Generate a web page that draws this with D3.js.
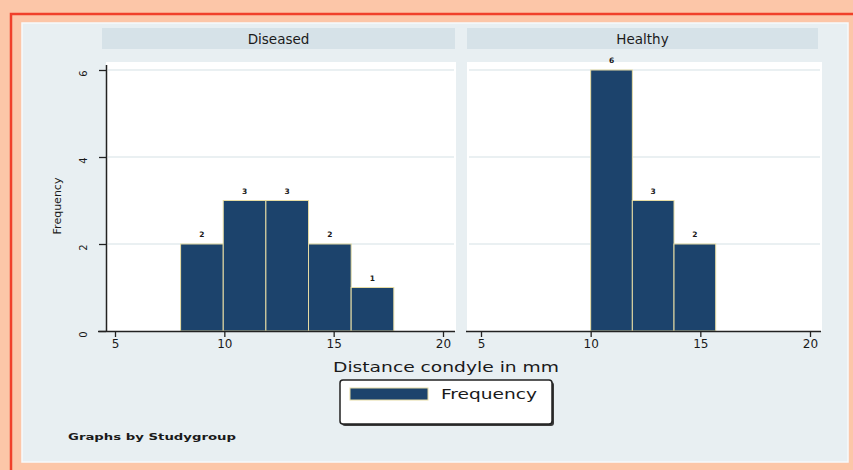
<!DOCTYPE html>
<html>
<head>
<meta charset="utf-8">
<script src="https://cdn.jsdelivr.net/npm/d3@7/dist/d3.min.js"></script>
<style>
  html, body { margin: 0; padding: 0; background: #fcc6a8; }
  svg { display: block; }
  text { font-family: "DejaVu Sans", Verdana, sans-serif; fill: #1a1a1a; }
</style>
</head>
<body>
<script>
// Histogram of condyle distance, split by study group
const groups = ["Diseased", "Healthy"];
const diseasedBinStarts = [8, 9.95, 11.9, 13.85, 15.8];
const diseasedBinWidth = 1.95;
const diseasedCounts = [2, 3, 3, 2, 1];
const healthyBinStarts = [10, 11.9, 13.8];
const healthyBinWidth = 1.9;
const healthyCounts = [6, 3, 2];
const xTicks = [5, 10, 15, 20];
const yTicks = [0, 2, 4, 6];
const xTitle = "Distance condyle in mm";
const yTitle = "Frequency";
const legendLabel = "Frequency";
const note = "Graphs by Studygroup";

const W = 853, H = 470;
const barFill = "#1c436c", barStroke = "#e6dca4";

const svg = d3.select("body").append("svg").attr("width", W).attr("height", H);

// outer frame
svg.append("rect").attr("x", 0).attr("y", 0).attr("width", W).attr("height", H).attr("fill", "#fcc6a8");
svg.append("path").attr("d", `M11,${H} V14 H${W}`).attr("fill", "none").attr("stroke", "#f0402a").attr("stroke-width", 2.5);
svg.append("rect").attr("x", 22).attr("y", 23).attr("width", 826).attr("height", 439)
  .attr("fill", "#e8eff2").attr("stroke", "#f6fafb").attr("stroke-width", 1.5);

const panels = [
  { name: groups[0], starts: diseasedBinStarts, width: diseasedBinWidth, counts: diseasedCounts,
    plotL: 106, plotR: 456, headL: 102, headR: 455, xr: [115, 443], yAxis: true },
  { name: groups[1], starts: healthyBinStarts, width: healthyBinWidth, counts: healthyCounts,
    plotL: 467, plotR: 822, headL: 467, headR: 818, xr: [481, 810], yAxis: false }
];

const plotTop = 62, plotBottom = 331;
const y = d3.scaleLinear().domain([0, 6]).range([331, 70]);

panels.forEach(p => {
  const x = d3.scaleLinear().domain([5, 20]).range(p.xr);
  const g = svg.append("g");

  // facet header strip
  g.append("rect").attr("x", p.headL).attr("y", 28).attr("width", p.headR - p.headL).attr("height", 21)
    .attr("fill", "#d6e2e8");
  g.append("text").attr("x", (p.headL + p.headR) / 2).attr("y", 43.5).attr("text-anchor", "middle")
    .attr("font-size", 13.5).text(p.name);

  // plot region
  g.append("rect").attr("x", p.plotL).attr("y", plotTop).attr("width", p.plotR - p.plotL)
    .attr("height", plotBottom - plotTop).attr("fill", "#ffffff");

  // gridlines
  g.selectAll("line.grid").data(yTicks.filter(t => t > 0)).enter().append("line")
    .attr("x1", p.plotL + 2).attr("x2", p.plotR - 2)
    .attr("y1", d => y(d)).attr("y2", d => y(d))
    .attr("stroke", "#e3ebee").attr("stroke-width", 1.5);

  // bars
  g.selectAll("rect.bar").data(p.counts).enter().append("rect")
    .attr("x", (d, i) => x(p.starts[i]))
    .attr("width", (d, i) => x(p.starts[i] + p.width) - x(p.starts[i]))
    .attr("y", d => y(d))
    .attr("height", d => y(0) - y(d))
    .attr("fill", barFill).attr("stroke", barStroke).attr("stroke-width", 1);

  // value labels
  g.selectAll("text.val").data(p.counts).enter().append("text")
    .attr("x", (d, i) => x(p.starts[i] + p.width / 2))
    .attr("y", d => y(d) - 7)
    .attr("text-anchor", "middle").attr("font-size", 7.5).attr("font-weight", "bold")
    .text(d => d);

  // x axis
  const xa = g.append("g").attr("transform", `translate(0,${plotBottom})`)
    .call(d3.axisBottom(x).tickValues(xTicks).tickSize(6).tickSizeOuter(0).tickPadding(2));
  xa.select(".domain").attr("d", `M${p.plotL - (p.yAxis ? 8 : 1)},0.5H${p.plotR - 1}`)
    .attr("stroke", "#222").attr("stroke-width", 1.5);
  xa.selectAll(".tick line").attr("stroke", "#222").attr("stroke-width", 1.3);
  xa.selectAll(".tick text").attr("font-size", 12).attr("font-family", "DejaVu Sans").attr("fill", "#1a1a1a");

  if (p.yAxis) {
    const ya = g.append("g").attr("transform", `translate(${p.plotL},0)`)
      .call(d3.axisLeft(y).tickValues(yTicks).tickFormat(d3.format("d")).tickSize(7).tickSizeOuter(0).tickPadding(0));
    ya.select(".domain").attr("d", `M0.5,${plotTop + 3}V${plotBottom}`).attr("stroke", "#222").attr("stroke-width", 1.5);
    ya.selectAll(".tick line").attr("stroke", "#222").attr("stroke-width", 1.3);
    ya.selectAll(".tick text")
      .attr("font-size", 10).attr("font-family", "DejaVu Sans").attr("fill", "#1a1a1a")
      .attr("text-anchor", "middle").attr("x", 0).attr("dy", 0)
      .attr("transform", "translate(-19,3) rotate(-90)");
  }
});

// axis titles
svg.append("text").attr("x", 446).attr("y", 372).attr("text-anchor", "middle")
  .attr("font-size", 14).attr("textLength", 226).attr("lengthAdjust", "spacingAndGlyphs").text(xTitle);
svg.append("text").attr("transform", "translate(61,206) rotate(-90)").attr("text-anchor", "middle")
  .attr("font-size", 11).text(yTitle);

// legend
const lg = svg.append("g");
lg.append("rect").attr("x", 342).attr("y", 382).attr("width", 212).attr("height", 44).attr("rx", 3)
  .attr("fill", "#3a3a3a");
lg.append("rect").attr("x", 340).attr("y", 380).attr("width", 212).attr("height", 44).attr("rx", 3)
  .attr("fill", "#ffffff").attr("stroke", "#222").attr("stroke-width", 1.5);
lg.append("rect").attr("x", 350).attr("y", 388).attr("width", 78).attr("height", 12)
  .attr("fill", barFill).attr("stroke", barStroke).attr("stroke-width", 1);
lg.append("text").attr("x", 441).attr("y", 399).attr("font-size", 14)
  .attr("textLength", 96).attr("lengthAdjust", "spacingAndGlyphs").text(legendLabel);

// note
svg.append("text").attr("x", 68).attr("y", 440).attr("font-size", 9).attr("font-weight", "bold")
  .attr("textLength", 168).attr("lengthAdjust", "spacingAndGlyphs").text(note);
</script>
</body>
</html>
